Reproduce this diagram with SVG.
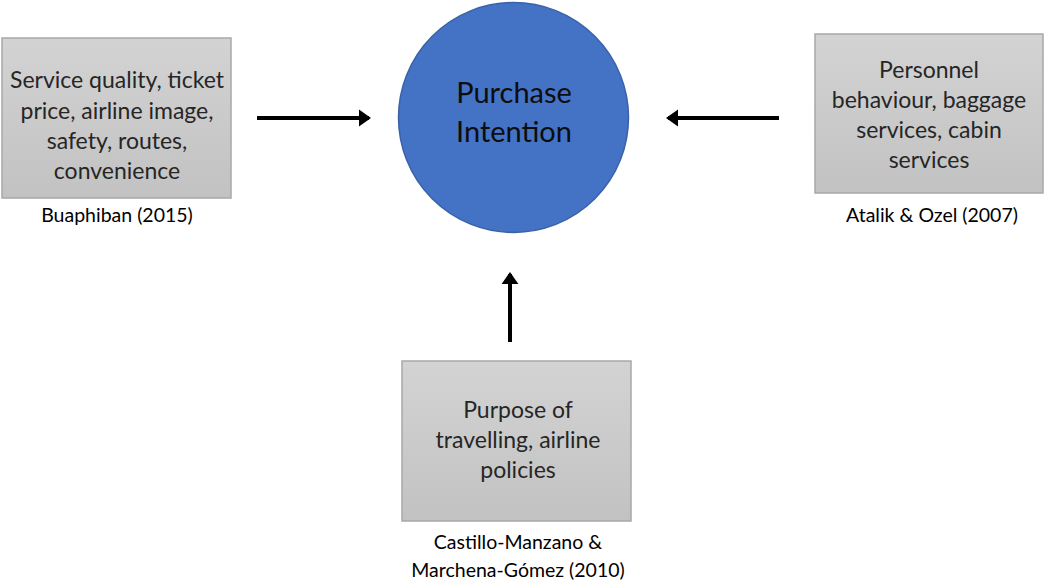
<svg xmlns="http://www.w3.org/2000/svg" width="1045" height="583" viewBox="0 0 1045 583">
<defs>
<linearGradient id="g" x1="0" y1="0" x2="0" y2="1"><stop offset="0" stop-color="#d3d3d3"/><stop offset="1" stop-color="#c2c2c2"/></linearGradient>
<marker id="ah" markerWidth="5" markerHeight="5" refX="2.5" refY="2.5" orient="auto" markerUnits="strokeWidth"><path d="M0,0.4 L3,2.5 L0,4.6 Z" fill="#000"/></marker>
<style>
.box{fill:url(#g);stroke:#a8a8a8;stroke-width:1.5}
.t{font-family:Lato,"Open Sans",sans-serif;font-size:23px;fill:#262626;text-anchor:middle}
.c{font-family:Lato,"Open Sans",sans-serif;font-size:19.5px;fill:#000;text-anchor:middle}
.ct{font-family:Lato,"Open Sans",sans-serif;font-size:29px;fill:#0d0d0d;text-anchor:middle}
.a{stroke:#000;stroke-width:4;fill:none;marker-end:url(#ah)}
</style>
</defs>
<rect width="1045" height="583" fill="#fff"/>
<g id="purchase-intention">
<circle cx="513.5" cy="117.5" r="115" fill="#4472c4" stroke="#3a62a8" stroke-width="1.5"/>
<text class="ct" x="514" y="103">Purchase</text>
<text class="ct" x="514" y="142">Intention</text>
</g>
<g id="buaphiban">
<rect class="box" x="2" y="38" width="229" height="160"/>
<text class="t" x="117" y="88">Service quality, ticket</text>
<text class="t" x="117" y="119">price, airline image,</text>
<text class="t" x="117" y="149">safety, routes,</text>
<text class="t" x="117" y="179">convenience</text>
<text class="c" x="117" y="222">Buaphiban (2015)</text>
</g>
<g id="atalik">
<rect class="box" x="815" y="34" width="228" height="159"/>
<text class="t" x="929" y="78">Personnel</text>
<text class="t" x="929" y="108">behaviour, baggage</text>
<text class="t" x="929" y="138">services, cabin</text>
<text class="t" x="929" y="168">services</text>
<text class="c" x="932" y="222">Atalik &amp; Ozel (2007)</text>
</g>
<g id="castillo">
<rect class="box" x="402" y="361" width="229" height="160"/>
<text class="t" x="518" y="418">Purpose of</text>
<text class="t" x="518" y="448">travelling, airline</text>
<text class="t" x="518" y="478">policies</text>
<text class="c" x="518" y="549">Castillo-Manzano &amp;</text>
<text class="c" x="518" y="577">Marchena-Gómez (2010)</text>
</g>
<g id="connectors">
<line class="a" x1="257" y1="118" x2="369" y2="118"/>
<line class="a" x1="779" y1="118" x2="668" y2="118"/>
<line class="a" x1="510" y1="342" x2="510" y2="274"/>
</g>
</svg>
